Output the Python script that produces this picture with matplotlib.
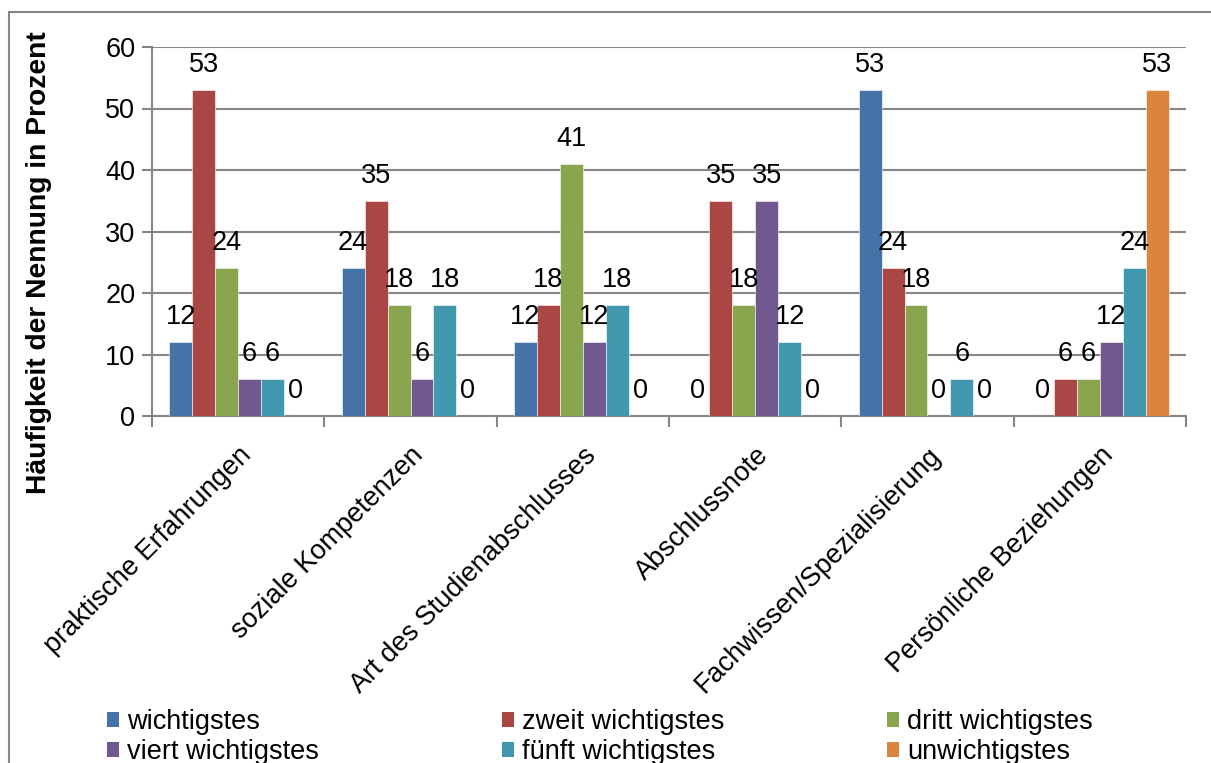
import numpy as np
import matplotlib.pyplot as plt
from matplotlib.patches import Rectangle, Patch

plt.rcParams['font.family'] = ['Liberation Sans', 'DejaVu Sans']

categories = ["praktische Erfahrungen", "soziale Kompetenzen", "Art des Studienabschlusses",
              "Abschlussnote", "Fachwissen/Spezialisierung", "Persönliche Beziehungen"]
series_names = ["wichtigstes", "zweit wichtigstes", "dritt wichtigstes",
                "viert wichtigstes", "fünft wichtigstes", "unwichtigstes"]
wichtigstes = [12, 24, 12, 0, 53, 0]
zweit = [53, 35, 18, 35, 24, 6]
dritt = [24, 18, 41, 18, 18, 6]
viert = [6, 6, 12, 35, 0, 12]
fuenft = [6, 18, 18, 12, 6, 24]
unwichtigstes = [0, 0, 0, 0, 0, 53]
colors = ["#4572A7", "#AA4643", "#89A54E", "#71588F", "#4198AF", "#DB843D"]

values = [wichtigstes, zweit, dritt, viert, fuenft, unwichtigstes]
FS = 19.5

fig = plt.figure(figsize=(12.11, 7.63), dpi=100)
# outer chart frame
fig.patches.append(Rectangle((9 / 1211, -0.1), 1.1, 1 - 12 / 763 + 0.1,
                             transform=fig.transFigure, fill=False,
                             edgecolor="#868686", linewidth=1.5, zorder=0))

ax = fig.add_axes([152 / 1211, 1 - 416 / 763, (1186 - 152) / 1211, (416 - 47) / 763])

x = np.arange(len(categories))
n = len(values)
width = 0.8 / n
for i, (vals, col) in enumerate(zip(values, colors)):
    pos = x - 0.4 + width * (i + 0.5)
    ax.bar(pos, vals, width, color=col, edgecolor="white", linewidth=0.4,
           label=series_names[i], zorder=3)
    for p, v in zip(pos, vals):
        ax.annotate(str(v), (p, v), xytext=(0, 13), textcoords="offset points",
                    ha="center", va="baseline", fontsize=FS, zorder=4)

ax.set_xlim(-0.5, len(categories) - 0.5)
ax.set_ylim(0, 60)
ax.set_yticks(range(0, 61, 10))
ax.tick_params(axis="y", labelsize=FS, length=7, width=1.5, color="#868686", pad=5)
ax.set_xticks(np.arange(-0.5, len(categories), 1.0))
ax.set_xticklabels([])
ax.set_xticks(x, minor=True)
ax.set_xticklabels(categories, minor=True, rotation=45, ha="right",
                   rotation_mode="anchor", fontsize=FS)
ax.tick_params(axis="x", which="major", length=8, width=1.5, color="#868686")
ax.tick_params(axis="x", which="minor", length=0, pad=19)
ax.grid(axis="y", color="#868686", linewidth=1.5, zorder=0)
for s in ["top", "right"]:
    ax.spines[s].set_visible(False)
for s in ["left", "bottom"]:
    ax.spines[s].set_color("#868686")
    ax.spines[s].set_linewidth(1.5)

fig.text(39 / 1211, 1 - 263 / 763, "Häufigkeit der Nennung in Prozent", rotation=90,
         ha="center", va="center", fontsize=20.3, fontweight="bold")

# legend in three columns, two rows each
legend_x = [107, 502, 887]
for c in range(3):
    idx = [c, c + 3]
    handles = [Patch(facecolor=colors[i]) for i in idx]
    fig.legend(handles, [series_names[i] for i in idx], loc="upper left",
               bbox_to_anchor=(legend_x[c] / 1211, 1 - 709 / 763), frameon=False,
               fontsize=FS, handlelength=0.45, handleheight=0.45, handletextpad=0.3,
               labelspacing=0.15, borderaxespad=0, borderpad=0)

fig.savefig("out.png", dpi=100)
